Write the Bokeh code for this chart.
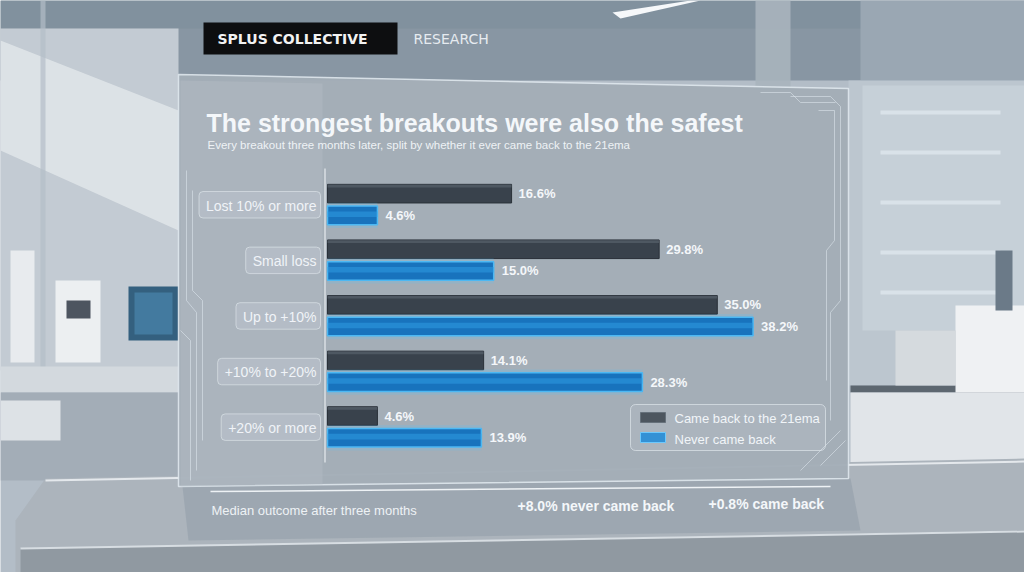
from bokeh.plotting import figure
from bokeh.models import Range1d, BoxAnnotation, ColumnDataSource, Label
from bokeh.core.properties import value
from bokeh.embed import file_html
from bokeh.resources import INLINE

# ---------------- data ----------------
categories = ["Lost 10% or more", "Small loss", "Up to +10%", "+10% to +20%", "+20% or more"]
came_back = [16.6, 29.8, 35.0, 14.1, 4.6]
never_back = [4.6, 15.0, 38.2, 28.3, 13.9]
series_names = ["Came back to the 21ema", "Never came back"]
median_never = 8.0
median_came = 0.8
title_text = "The strongest breakouts were also the safest"
subtitle_text = "Every breakout three months later, split by whether it ever came back to the 21ema"
brand_text = "SPLUS COLLECTIVE"
brand_sub = "RESEARCH"
footer_text = "Median outcome after three months"

# ---------------- layout helpers (page pixels -> data) ----------------
W, H = 1024, 572
OX, OY = 0, 0
X0, SX = 325.5, 11.18      # page px of value 0, px per percent
Y0, SY = 204.0, 55.6       # page px of first row centre, px per row


def dx(px):
    return (px - X0) / SX


def dy(py):
    return (py - Y0) / SY


FONT = "Liberation Sans"
WHITE = "#f4f7fa"

p = figure(width=W, height=H, output_backend="svg", toolbar_location=None,
           x_range=Range1d(dx(OX), dx(OX + W)), y_range=Range1d(dy(OY + H), dy(OY)),
           min_border=0, background_fill_color="#b3bdc7", border_fill_color="#b3bdc7")
p.axis.visible = False
p.grid.visible = False
p.outline_line_color = None


def rect_px(l, t, r, b, color, alpha=1.0, line=None):
    p.quad(left=dx(l), right=dx(r), top=dy(t), bottom=dy(b), fill_color=color,
           fill_alpha=alpha, line_color=line)


def poly_px(pts, color, alpha=1.0, line=None, lw=1, lalpha=1.0):
    p.patch(x=[dx(a) for a, _ in pts], y=[dy(b) for _, b in pts], fill_color=color,
            fill_alpha=alpha, line_color=line, line_width=lw, line_alpha=lalpha)


# ---------------- room backdrop ----------------
rect_px(0, 0, 1024, 80, "#8896a3")
rect_px(0, 0, 1024, 28, "#7f8e9b", 0.7)
rect_px(860, 0, 1024, 80, "#9aa7b3")
poly_px([(612, 12), (690, 0), (700, 0), (620, 18)], "#f6f8fa")
rect_px(755, 0, 790, 90, "#a9b4bd", 0.9)
rect_px(0, 28, 178, 370, "#c3cbd3")
poly_px([(0, 40), (178, 110), (178, 230), (0, 150)], "#dfe4e8", 0.9)
rect_px(40, 0, 45, 370, "#b3bdc7", 0.7)
rect_px(10, 250, 34, 362, "#e8ebee")
rect_px(55, 280, 100, 362, "#eceff1")
rect_px(66, 300, 90, 318, "#4d5560")
rect_px(128, 286, 178, 340, "#34607f")
rect_px(134, 292, 172, 334, "#4a86ad", 0.7)
rect_px(0, 366, 178, 392, "#d3d9de")
rect_px(0, 392, 178, 480, "#a3adb7")
rect_px(0, 400, 60, 440, "#dde2e6")
rect_px(848, 80, 1024, 385, "#bcc6cf")
rect_px(862, 85, 1024, 330, "#c6d0d8")
for yy in (110, 150, 200, 250, 290):
    rect_px(880, yy, 1000, yy + 4, "#dde6ed", 0.8)
rect_px(850, 385, 1024, 392, "#5d6770")
rect_px(850, 392, 1024, 462, "#e1e5e9")
rect_px(955, 305, 1024, 392, "#eff1f3")
rect_px(995, 250, 1012, 310, "#6b7a88")
rect_px(895, 330, 955, 385, "#d5dade")

# table surface
poly_px([(15, 520), (45, 478), (1024, 458), (1024, 572), (15, 572)], "#acb4bc")
poly_px([(20, 548), (1024, 530), (1024, 572), (20, 572)], "#9099a1")
p.line(x=[dx(45), dx(1024)], y=[dy(480), dy(461)], line_color="#e4e8ec", line_width=2)
p.line(x=[dx(20), dx(1024)], y=[dy(548), dy(531)], line_color="#d7dde2", line_width=2)

# ---------------- glass panel ----------------
poly_px([(182, 486), (850, 478), (860, 530), (188, 540)], "#9ca6b0", 0.95)
poly_px([(178, 74), (848, 88), (848, 478), (178, 486)], "#a3adb7", 0.97,
        line="#e2eaf0", lw=1.5, lalpha=0.85)
poly_px([(180, 80), (322, 83), (322, 484), (180, 486)], "#b4bdc6", 0.45)
p.line(x=[dx(210), dx(830)], y=[dy(491), dy(486)], line_color="#eef2f5", line_width=1.5)

# circuit traces along the edges
traces = [
    [(186, 170), (186, 300), (196, 312), (196, 470)],
    [(192, 190), (192, 290), (202, 300), (202, 440)],
    [(180, 330), (190, 340), (190, 480)],
    [(760, 92), (790, 92), (800, 102), (835, 102)],
    [(790, 96), (830, 96), (840, 106), (840, 300), (830, 312), (830, 420)],
    [(818, 110), (834, 110), (834, 240), (826, 250), (826, 380)],
    [(820, 465), (845, 440)],
    [(800, 470), (840, 430)],
]
p.multi_line(xs=[[dx(a) for a, _ in t] for t in traces],
             ys=[[dy(b) for _, b in t] for t in traces],
             line_color="#e0e9f0", line_alpha=0.55, line_width=1)

# ---------------- header ----------------
rect_px(203, 22, 397, 54, "#0d0e10")
p.add_layout(Label(x=dx(217), y=dy(38.5), text=brand_text, text_color="#f2f2f2",
                   text_font="DejaVu Sans", text_font_style="bold", text_font_size="14px",
                   text_baseline="middle"))
p.add_layout(Label(x=dx(413), y=dy(38.5), text=brand_sub, text_color="#e6ebf0",
                   text_font="DejaVu Sans", text_font_size="14px", text_baseline="middle"))

# ---------------- titles ----------------
p.add_layout(Label(x=dx(206), y=dy(122.5), text=title_text, text_color=WHITE,
                   text_font=FONT, text_font_style="bold", text_font_size="25px",
                   text_baseline="alphabetic"))
p.add_layout(Label(x=dx(207), y=dy(144.5), text=subtitle_text, text_color="#eef2f5",
                   text_font=FONT, text_font_size="11.5px", text_baseline="alphabetic"))

# ---------------- category labels with boxes ----------------
AW = {" ": 278, "%": 889, "+": 584, ".": 278, "L": 556, "S": 667, "U": 722, "l": 222,
      "o": 556, "s": 500, "t": 278, "r": 333, "m": 833, "e": 556, "a": 556, "p": 556,
      "u": 556}


def text_w(s, size):
    return sum(AW.get(c, 556) for c in s) * size / 1000.0


rows = list(range(len(categories)))
for i, c in enumerate(categories):
    w = text_w(c, 14)
    p.add_layout(BoxAnnotation(left=dx(320 - w - 11), right=dx(320),
                               top=i - 13 / SY, bottom=i + 13.5 / SY,
                               fill_color="#dfe6ec", fill_alpha=0.18,
                               line_color="#e8eef3", line_alpha=0.55, line_width=1,
                               border_radius=4))
p.text(x=[dx(316)] * len(rows), y=[r + 0.02 for r in rows], text=categories,
       text_align="right", text_baseline="middle", text_color=WHITE,
       text_font=value(FONT), text_font_size="14px")

# axis line
p.segment(x0=[dx(324.5)], y0=[dy(168)], x1=[dx(324.5)], y1=[dy(462)],
          line_color="#eef2f5", line_width=1.2, line_alpha=0.9)

# ---------------- bars ----------------
OFF = 0.195
BH = 0.335
dark_y = [r - OFF for r in rows]
blue_y = [r + OFF for r in rows]
src = ColumnDataSource(dict(dy=dark_y, by=blue_y, came=came_back, never=never_back,
                            came_lbl=[f"{v:.1f}%" for v in came_back],
                            never_lbl=[f"{v:.1f}%" for v in never_back],
                            dhi=[y - BH / 2 + 0.03 for y in dark_y],
                            bmid=[y - 0.02 for y in blue_y]))

BAR_START = dx(327)
p.hbar(y="dy", left=BAR_START, right="came", height=BH, source=src,
       fill_color="#39424c", line_color="#2a3139", line_width=1)
p.hbar(y="dhi", left=BAR_START, right="came", height=0.05, source=src,
       fill_color="#5d6771", fill_alpha=0.6, line_color=None)

p.hbar(y="by", left=BAR_START, right="never", height=BH + 0.12, source=src,
       fill_color="#56c2ff", fill_alpha=0.2, line_color=None)
p.hbar(y="by", left=BAR_START, right="never", height=BH, source=src,
       fill_color="#1873bd", line_color="#4cb8f3", line_width=1.5)
p.hbar(y="bmid", left=BAR_START, right="never", height=0.1, source=src,
       fill_color="#2f9ae2", fill_alpha=0.55, line_color=None)

p.text(x="came", y="dy", text="came_lbl", source=src, x_offset=7,
       text_align="left", text_baseline="middle", text_color=WHITE,
       text_font=value(FONT), text_font_style="bold", text_font_size="13px")
p.text(x="never", y="by", text="never_lbl", source=src, x_offset=8,
       text_align="left", text_baseline="middle", text_color=WHITE,
       text_font=value(FONT), text_font_style="bold", text_font_size="13px")

# ---------------- legend ----------------
p.add_layout(BoxAnnotation(left=dx(630), right=dx(825), top=dy(404), bottom=dy(450),
                           fill_color="#dfe6ec", fill_alpha=0.12, line_color="#e8eef3",
                           line_alpha=0.6, line_width=1, border_radius=5))
rect_px(640, 412, 665, 422, "#39424c", line="#56616c")
rect_px(640, 432, 665, 442, "#1c86d2", line="#5cc4ff")
p.text(x=[dx(674), dx(674)], y=[dy(417.5), dy(438.5)], text=series_names,
       text_align="left", text_baseline="middle", text_color=WHITE,
       text_font=value(FONT), text_font_size="13px")

# ---------------- footer ----------------
p.add_layout(Label(x=dx(211), y=dy(510), text=footer_text, text_color="#eef2f5",
                   text_font=FONT, text_font_size="13px", text_baseline="middle"))
p.add_layout(Label(x=dx(517), y=dy(505), text=f"+{median_never:.1f}%  never came back",
                   text_color=WHITE, text_font=FONT, text_font_style="bold",
                   text_font_size="14px", text_baseline="middle"))
p.add_layout(Label(x=dx(708), y=dy(503), text=f"+{median_came:.1f}%  came back",
                   text_color=WHITE, text_font=FONT, text_font_style="bold",
                   text_font_size="14px", text_baseline="middle"))

open("out.html", "w").write(file_html(p, INLINE))
